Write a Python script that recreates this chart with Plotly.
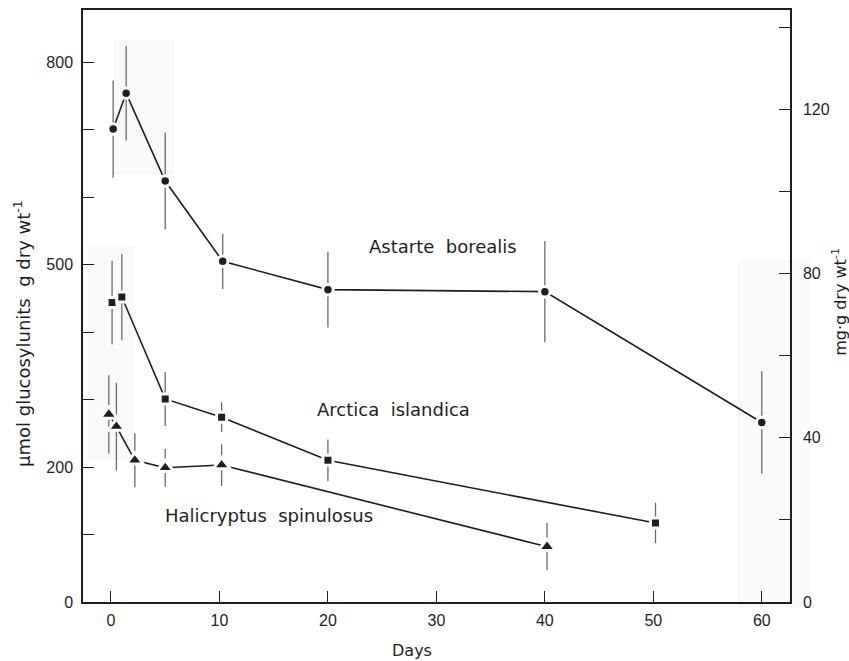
import plotly.graph_objects as go

# ---- data ----
days_astarte = [0.2, 1.4, 5, 10.3, 20, 40, 60]
astarte = [701, 754, 624, 505, 463, 460, 266]
astarte_err = [72, 70, 72, 41, 56, 75, 76]

days_arctica = [0.1, 1.0, 5, 10.2, 20, 50.2]
arctica = [444, 452, 301, 274, 210, 117]
arctica_err = [62, 64, 40, 22, 31, 30]

days_hali = [-0.2, 0.5, 2.2, 5, 10.2, 40.2]
hali = [278, 260, 210, 199, 203, 82]
hali_err = [58, 65, 40, 28, 31, 35]

x_ticks = [0, 10, 20, 30, 40, 50, 60]
left_labelled = [0, 200, 500, 800]
left_minor = [100, 300, 400, 600, 700]
right_labelled = [0, 40, 80, 120]
right_minor = [20, 60, 100, 140]

FONT = "Liberation Sans"
TFONT = "DejaVu Sans"
INK = "#1e1e1e"

fig = go.Figure()

def add_series(x, y, err, symbol, size):
    fig.add_trace(go.Scatter(
        x=x, y=y, mode="lines+markers",
        line=dict(color=INK, width=1.6),
        marker=dict(symbol=symbol, size=size, color=INK,
                    line=dict(color="white", width=3)),
        error_y=dict(type="data", array=err, visible=True,
                     color="#6a6a6a", thickness=1.3, width=0),
        showlegend=False, hoverinfo="x+y"))

add_series(days_astarte, astarte, astarte_err, "circle", 10.5)
add_series(days_arctica, arctica, arctica_err, "square", 10)
add_series(days_hali, hali, hali_err, "triangle-up", 15)

# secondary axis carrier
fig.add_trace(go.Scatter(x=[], y=[], yaxis="y2", showlegend=False, hoverinfo="skip"))

axis_common = dict(showline=True, linecolor=INK, linewidth=1.5, ticks="inside",
                   ticklen=11, tickwidth=1.3, tickcolor=INK, showgrid=False,
                   zeroline=False, automargin=False,
                   tickfont=dict(family=FONT, size=16, color=INK))
minor_common = dict(ticks="inside", ticklen=11, tickwidth=1.3, tickcolor=INK, showgrid=False)

fig.update_layout(
    template="none",
    width=849, height=661,
    margin=dict(l=83, r=59, t=10, b=59),
    plot_bgcolor="white", paper_bgcolor="white",
    font=dict(family=FONT, size=16, color=INK),
    xaxis=dict(range=[-2.58, 62.6], tickvals=x_ticks, mirror=True,
               ticklabelstandoff=3, **axis_common),
    yaxis=dict(range=[0, 877.5], tickvals=left_labelled,
               minor=dict(tickvals=left_minor, **minor_common),
               ticklabelstandoff=5, **axis_common),
    yaxis2=dict(range=[0, 144.2], tickvals=right_labelled,
                minor=dict(tickvals=right_minor, **minor_common),
                overlaying="y", side="right", ticklabelstandoff=8, **axis_common),
    shapes=[
        dict(type="rect", xref="paper", yref="paper", x0=0.042, x1=0.130, y0=0.721, y1=0.949,
             fillcolor="rgba(0,0,0,0.022)", line=dict(width=0), layer="below"),
        dict(type="rect", xref="paper", yref="paper", x0=0.006, x1=0.071, y0=0.240, y1=0.603,
             fillcolor="rgba(0,0,0,0.022)", line=dict(width=0), layer="below"),
        dict(type="rect", xref="paper", yref="paper", x0=0.925, x1=1.028, y0=-0.01, y1=0.578,
             fillcolor="rgba(0,0,0,0.02)", line=dict(width=0), layer="below"),
    ],
)

ann_font = dict(family=TFONT, size=18, color=INK)
fig.add_annotation(x=30.6, y=527, text="Astarte  borealis", showarrow=False, font=ann_font)
fig.add_annotation(x=26.0, y=286, text="Arctica  islandica", showarrow=False, font=ann_font)
fig.add_annotation(x=14.6, y=128, text="Halicryptus  spinulosus", showarrow=False, font=ann_font)

# axis titles
fig.add_annotation(xref="paper", yref="paper", x=0, y=0.4527, xshift=-61,
                   xanchor="center", yanchor="middle",
                   text="µmol glucosylunits  g dry wt<sup>-1</sup>", textangle=-90,
                   showarrow=False, font=dict(family=TFONT, size=18, color=INK))
fig.add_annotation(xref="paper", yref="paper", x=1, y=0.507, xshift=50,
                   xanchor="center", yanchor="middle",
                   text="mg·g dry wt<sup>-1</sup>", textangle=-90,
                   showarrow=False, font=dict(family=TFONT, size=16, color=INK))
fig.add_annotation(xref="paper", yref="paper", x=0.4647, y=0, yshift=-48,
                   xanchor="center", yanchor="middle",
                   text="Days", showarrow=False, font=dict(family=TFONT, size=16, color=INK))

fig.write_html("out.html", config={"displayModeBar": False},
               post_script="document.body.style.margin='0';document.body.style.overflow='hidden';")
